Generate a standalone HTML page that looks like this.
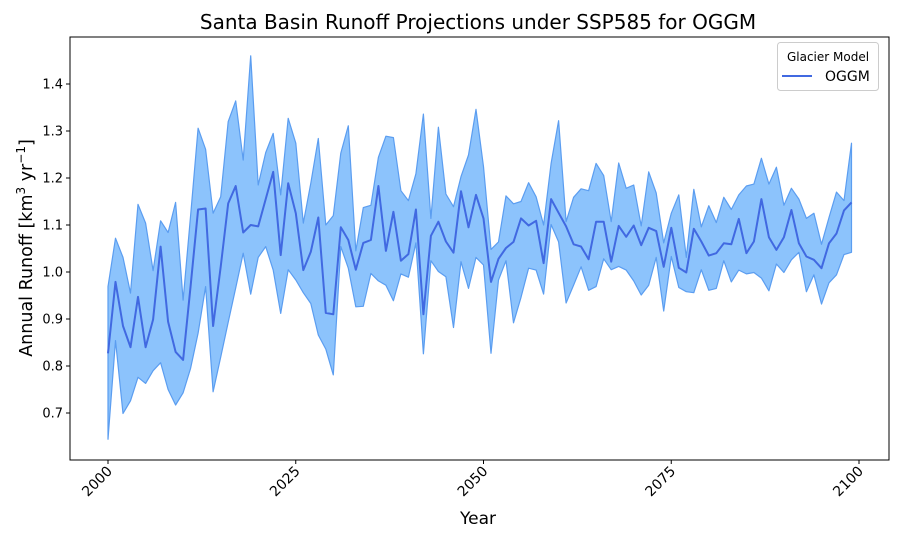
<!DOCTYPE html>
<html><head><meta charset="utf-8"><style>
body{margin:0;background:#fff}
svg{display:block;font-family:"DejaVu Sans","Liberation Sans",sans-serif}
</style></head><body>
<svg id="chart" width="900" height="540" viewBox="0 0 900 540">
<rect x="0" y="0" width="900" height="540" fill="#fff"/>
<text x="478" y="29" font-size="20" text-anchor="middle" fill="#000">Santa Basin Runoff Projections under SSP585 for OGGM</text>
<g id="plot"></g>
<text x="478" y="524" font-size="17" text-anchor="middle">Year</text>
<text transform="translate(32,248) rotate(-90)" font-size="17.5" text-anchor="middle">Annual Runoff [km<tspan dy="-7" font-size="12">3</tspan><tspan dy="7"> yr</tspan><tspan dy="-7" font-size="12">−1</tspan><tspan dy="7">]</tspan></text>
<g>
<rect x="777.5" y="42.5" width="101" height="48" rx="3" fill="#fff" fill-opacity="0.8" stroke="#ccc"/>
<text x="828" y="61" font-size="12" text-anchor="middle">Glacier Model</text>
<line x1="782" y1="76" x2="812" y2="76" stroke="#4169e1" stroke-width="2"/>
<text x="825" y="81" font-size="14">OGGM</text>
</g>
</svg>
<script>
const years = [];
for (let y = 2000; y <= 2099; y++) years.push(y);
const meanVals = [0.827,0.979,0.885,0.840,0.947,0.840,0.899,1.054,0.894,0.830,
0.813,0.970,1.133,1.135,0.885,1.011,1.146,1.183,1.084,1.100,
1.097,1.155,1.213,1.036,1.189,1.125,1.004,1.043,1.116,0.913,
0.910,1.095,1.068,1.005,1.062,1.068,1.183,1.045,1.128,1.024,
1.038,1.133,0.910,1.077,1.107,1.065,1.041,1.172,1.095,1.164,
1.114,0.979,1.028,1.051,1.064,1.114,1.099,1.109,1.019,1.155,
1.126,1.097,1.059,1.054,1.027,1.107,1.107,1.022,1.098,1.075,
1.099,1.057,1.094,1.087,1.011,1.094,1.009,0.999,1.092,1.065,
1.035,1.040,1.061,1.059,1.113,1.040,1.065,1.155,1.074,1.047,
1.074,1.132,1.061,1.033,1.026,1.008,1.061,1.082,1.131,1.148];
const upperVals = [0.969,1.072,1.031,0.955,1.144,1.104,1.003,1.109,1.084,1.148,
0.940,1.120,1.306,1.261,1.125,1.160,1.320,1.364,1.238,1.460,
1.185,1.254,1.295,1.164,1.327,1.274,1.104,1.189,1.284,1.100,
1.120,1.253,1.311,1.045,1.137,1.142,1.244,1.289,1.286,1.173,
1.152,1.209,1.336,1.114,1.308,1.166,1.139,1.203,1.249,1.346,
1.224,1.048,1.064,1.162,1.145,1.150,1.190,1.160,1.100,1.231,
1.322,1.107,1.159,1.177,1.173,1.231,1.205,1.107,1.232,1.178,
1.185,1.098,1.213,1.168,1.062,1.125,1.164,1.031,1.176,1.096,
1.141,1.105,1.159,1.133,1.164,1.183,1.187,1.242,1.187,1.223,
1.142,1.178,1.155,1.114,1.125,1.059,1.116,1.170,1.152,1.274];
const lowerVals = [0.644,0.854,0.699,0.726,0.776,0.763,0.790,0.807,0.750,0.717,
0.743,0.795,0.870,0.969,0.745,0.819,0.893,0.966,1.040,0.953,
1.031,1.054,1.004,0.912,1.005,0.983,0.956,0.933,0.866,0.836,
0.781,1.054,1.008,0.926,0.927,0.997,0.981,0.972,0.939,0.996,
0.989,1.062,0.826,1.024,1.001,0.990,0.882,1.022,0.965,1.031,
1.015,0.827,0.983,1.024,0.892,0.946,1.008,1.004,0.953,1.101,
1.064,0.934,0.972,1.011,0.961,0.969,1.028,1.005,1.012,1.004,
0.981,0.951,0.972,1.031,0.917,1.033,0.967,0.958,0.956,1.005,
0.961,0.965,1.024,0.979,1.004,0.996,0.999,0.987,0.960,1.017,
0.999,1.026,1.042,0.958,0.994,0.932,0.977,0.994,1.037,1.042];
const xTicks = [2000,2025,2050,2075,2100];
const yTicks = [0.7,0.8,0.9,1.0,1.1,1.2,1.3,1.4];

const NS = "http://www.w3.org/2000/svg";
const L = 70, R = 889, T = 37, B = 460;
const xs = yr => 108 + (yr - 2000) * (859 - 108) / 100;
const ys = v => 413 - (v - 0.7) * 470;
const g = document.getElementById('plot');
function mk(tag, attrs) {
  const e = document.createElementNS(NS, tag);
  for (const k in attrs) e.setAttribute(k, attrs[k]);
  return e;
}
let d = '';
years.forEach((y, i) => { d += (i ? 'L' : 'M') + xs(y).toFixed(1) + ',' + ys(upperVals[i]).toFixed(1); });
for (let i = years.length - 1; i >= 0; i--) d += 'L' + xs(years[i]).toFixed(1) + ',' + ys(lowerVals[i]).toFixed(1);
d += 'Z';
const band = mk('path', {d: d, fill: '#8cc3fc', stroke: '#5b9df0', 'stroke-width': 1.2, 'stroke-linejoin': 'round'});


g.appendChild(band);
let md = '';
years.forEach((y, i) => { md += (i ? 'L' : 'M') + xs(y).toFixed(1) + ',' + ys(meanVals[i]).toFixed(1); });
const line = mk('path', {d: md, fill: 'none', stroke: '#4169e1', 'stroke-width': 2, 'stroke-linejoin': 'round'});


g.appendChild(line);
const frame = mk('rect', {x: L, y: T, width: R - L, height: B - T, fill: 'none', stroke: '#000', 'stroke-width': 1});


g.appendChild(frame);
xTicks.forEach(t => {
  const x = xs(t);
  const tk = mk('line', {x1: x, y1: B, x2: x, y2: B + 4, stroke: '#000'});
  
  
  g.appendChild(tk);
  const tx = mk('text', {transform: `translate(${x + 5},${B + 12}) rotate(-45)`, 'font-size': 14, 'text-anchor': 'end'});
  tx.textContent = t;
  
  
  g.appendChild(tx);
});
yTicks.forEach(t => {
  const y = ys(t);
  const tk = mk('line', {x1: L - 4, y1: y, x2: L, y2: y, stroke: '#000'});
  
  
  g.appendChild(tk);
  const tx = mk('text', {x: L - 7, y: y + 4.5, 'font-size': 13, 'text-anchor': 'end'});
  tx.textContent = t.toFixed(1);
  
  
  g.appendChild(tx);
});
</script>
</body></html>
